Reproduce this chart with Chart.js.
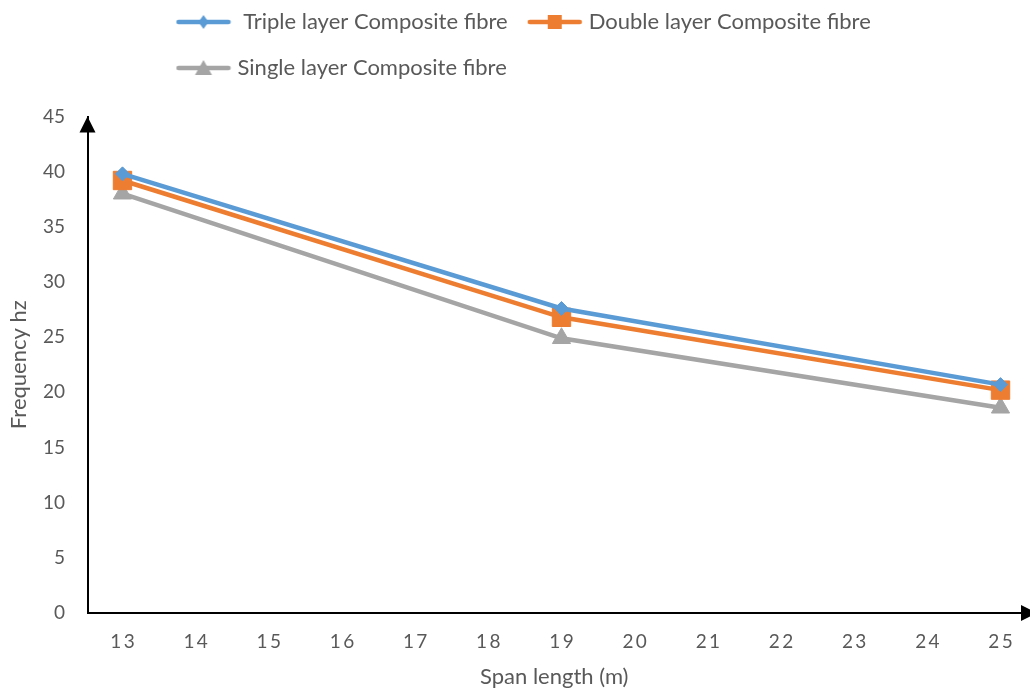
<!DOCTYPE html>
<html>
<head>
<meta charset="utf-8">
<script src="https://cdn.jsdelivr.net/npm/chart.js@4.4.0/dist/chart.umd.min.js"></script>
<style>
  html, body { margin: 0; padding: 0; background: #ffffff; }
  #wrap { width: 1030px; height: 688px; }
</style>
</head>
<body>
<div id="wrap"><canvas id="c" width="1030" height="688"></canvas></div>
<script>
// Natural frequency of the slab against span length
const spanLengths = [13, 19, 25];
const tripleLayer = [39.8, 27.6, 20.7];
const doubleLayer = [39.2, 26.8, 20.2];
const singleLayer = [38.0, 24.9, 18.6];

const seriesNames = [' Triple layer Composite fibre', 'Double layer Composite fibre', 'Single layer Composite fibre'];
const xTickValues = [13, 14, 15, 16, 17, 18, 19, 20, 21, 22, 23, 24, 25];
const yTickValues = [0, 5, 10, 15, 20, 25, 30, 35, 40, 45];
const xAxisTitle = 'Span length (m)';
const yAxisTitle = 'Frequency hz';

const BLUE = '#5B9BD5';
const ORANGE = '#ED7D31';
const GREY = '#A5A5A5';
const TEXT = '#595959';
const FONT = 'Lato';
const LABEL_SIZE = 22;

function toPoints(values) {
  return spanLengths.map((x, i) => ({ x: x, y: values[i] }));
}

// Legend swatch: a short line with the series marker in the middle
function swatch(color, shape) {
  const c = document.createElement('canvas');
  c.width = 56; c.height = 20;
  const g = c.getContext('2d');
  g.strokeStyle = color; g.fillStyle = color;
  g.lineWidth = 4.5; g.lineCap = 'round';
  g.beginPath(); g.moveTo(3, 10); g.lineTo(53, 10); g.stroke();
  g.beginPath();
  if (shape === 'diamond') {
    g.moveTo(28, 3); g.lineTo(33, 10); g.lineTo(28, 17); g.lineTo(23, 10);
  } else if (shape === 'square') {
    g.rect(21, 3, 14, 14);
  } else {
    g.moveTo(28, 2); g.lineTo(36.5, 17); g.lineTo(19.5, 17);
  }
  g.closePath(); g.fill();
  return c;
}

const legendSwatches = [swatch(BLUE, 'diamond'), swatch(ORANGE, 'square'), swatch(GREY, 'triangle')];

// Axis arrow heads at the ends of both axes
const axisArrows = {
  id: 'axisArrows',
  afterDraw(chart) {
    const { ctx, chartArea: a } = chart;
    ctx.save();
    ctx.fillStyle = '#000000';
    ctx.beginPath();
    ctx.moveTo(a.left, a.top);
    ctx.lineTo(a.left - 8, a.top + 16);
    ctx.lineTo(a.left + 8, a.top + 16);
    ctx.closePath(); ctx.fill();
    ctx.beginPath();
    ctx.moveTo(a.right + 16, a.bottom);
    ctx.lineTo(a.right, a.bottom - 8);
    ctx.lineTo(a.right, a.bottom + 8);
    ctx.closePath(); ctx.fill();
    ctx.restore();
  }
};

// Place the legend block: rows start at the same left edge
const legendPlacement = {
  id: 'legendPlacement',
  beforeDraw(chart) {
    const lg = chart.legend;
    if (!lg) return;
    const h = lg.bottom - lg.top;
    lg.top = -13;
    lg.bottom = lg.top + h;
    lg.left = 156.5;
  }
};

function build() {
  Chart.defaults.font.family = FONT;
  Chart.defaults.color = TEXT;

  new Chart(document.getElementById('c'), {
    type: 'line',
    data: {
      datasets: [
        {
          label: seriesNames[0], data: toPoints(tripleLayer),
          borderColor: BLUE, backgroundColor: BLUE, borderWidth: 4.5,
          pointStyle: 'rectRot', pointRadius: 7, pointBorderWidth: 1,
          pointBackgroundColor: BLUE, pointBorderColor: BLUE
        },
        {
          label: seriesNames[1], data: toPoints(doubleLayer),
          borderColor: ORANGE, backgroundColor: ORANGE, borderWidth: 4.5,
          pointStyle: 'rect', pointRadius: 13, pointBorderWidth: 1,
          pointBackgroundColor: ORANGE, pointBorderColor: ORANGE
        },
        {
          label: seriesNames[2], data: toPoints(singleLayer),
          borderColor: GREY, backgroundColor: GREY, borderWidth: 4.5,
          pointStyle: 'triangle', pointRadius: 10.5, pointBorderWidth: 1,
          pointBackgroundColor: GREY, pointBorderColor: GREY
        }
      ]
    },
    options: {
      responsive: false,
      animation: false,
      devicePixelRatio: 1,
      layout: { autoPadding: false, padding: { top: 14.5, left: 0, right: 9, bottom: 0 } },
      elements: { line: { tension: 0 } },
      plugins: {
        tooltip: { enabled: false },
        legend: {
          position: 'top',
          align: 'start',
          labels: {
            color: TEXT,
            font: { family: FONT, size: LABEL_SIZE },
            padding: 24,
            usePointStyle: true,
            pointStyleWidth: 46,
            generateLabels(chart) {
              return chart.data.datasets.map((ds, i) => ({
                text: ds.label,
                fillStyle: ds.borderColor,
                strokeStyle: ds.borderColor,
                lineWidth: 0,
                pointStyle: legendSwatches[i],
                hidden: false,
                datasetIndex: i,
                fontColor: TEXT
              }));
            }
          }
        }
      },
      scales: {
        x: {
          type: 'linear',
          min: 12.522,
          max: 25.28,
          afterBuildTicks(scale) { scale.ticks = xTickValues.map(v => ({ value: v })); },
          afterFit(scale) {
            scale.height = 75;
            scale.paddingLeft = 0;
            scale.paddingRight = 0;
          },
          grid: { display: false, drawTicks: false },
          border: { display: true, color: '#000000', width: 2 },
          ticks: {
            autoSkip: false, maxRotation: 0, padding: 17,
            color: TEXT, font: { family: FONT, size: 19 },
            callback: v => String(v).split('').join('\u2009')
          },
          title: {
            display: true, text: xAxisTitle, color: TEXT,
            font: { family: FONT, size: LABEL_SIZE, lineHeight: 1 }, padding: { top: 0, bottom: 0 }
          }
        },
        y: {
          min: 0,
          max: 45,
          afterBuildTicks(scale) { scale.ticks = yTickValues.map(v => ({ value: v })); },
          afterFit(scale) { scale.width = 87.5; },
          grid: { display: false, drawTicks: false },
          border: { display: true, color: '#000000', width: 2 },
          ticks: { padding: 22.5, color: TEXT, font: { family: FONT, size: 19 } },
          title: {
            display: true, text: yAxisTitle, color: TEXT,
            font: { family: FONT, size: LABEL_SIZE, lineHeight: 1 }, padding: { top: 8, bottom: 0 }
          }
        }
      }
    },
    plugins: [axisArrows, legendPlacement]
  });
}

if (document.fonts && document.fonts.load) {
  document.fonts.load(LABEL_SIZE + 'px ' + FONT).then(build, build);
} else {
  build();
}
</script>
</body>
</html>
